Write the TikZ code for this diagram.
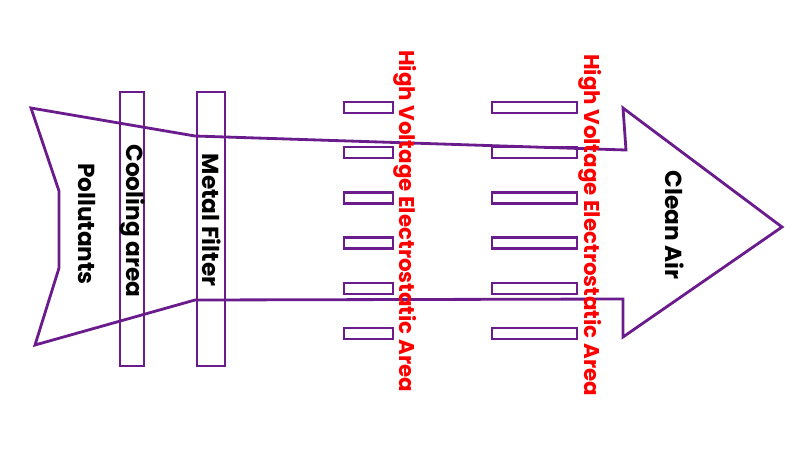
\documentclass[tikz,border=0pt]{standalone}
\usepackage{fontspec}
\setmainfont{Poppins}
\usetikzlibrary{positioning}
\definecolor{flowStroke}{RGB}{106,27,140}
\definecolor{hvRed}{RGB}{255,0,0}
\colorlet{ink}{black}
\tikzset{
  outline/.style={draw=flowStroke, line width=2pt, line join=miter},
  stagebox/.style={
    draw=flowStroke,
    line width=2pt,
    minimum height=6.85cm,
    inner sep=0pt
  },
  plate/.style={
    draw=flowStroke,
    line width=1.8pt,
    minimum height=0.275cm,
    inner sep=0pt
  },
  tag/.style={font=\bfseries\fontsize{16.5}{18}\selectfont, text=ink, rotate=-90, inner sep=0pt},
  hvtag/.style={tag, font=\bfseries\fontsize{15.2}{17}\selectfont, text=hvRed}
}

\begin{document}
\begin{tikzpicture}[x=0.025cm,y=-0.025cm]
  \useasboundingbox (0,0) rectangle (800,450);

  % flow arrow
  \draw[outline] (31,108) -- (59,191) -- (59,268) -- (35,345) -- (195,300)
    -- (623,299) -- (623,337) -- (782,227) -- (623,108) -- (626,150)
    -- (195,136) -- cycle;

  % stages
  \node[stagebox, minimum width=0.6cm] (cooling) at (132,229) {};
  \node[stagebox, minimum width=0.7cm] (filter) at (211,229) {};

  % electrostatic plates
  \foreach \i in {0,...,5} {
    \node[plate, minimum width=1.225cm] (plateA\i) at (368.5,107.5+45.2*\i) {};
    \node[plate, minimum width=2.125cm] (plateB\i) at (534.5,107.5+45.2*\i) {};
  }

  % labels
  \node[tag] (pollutants) at (87,224) {Pollutants};
  \node[tag] (coolingLabel) at (133,221) {Cooling area};
  \node[tag] (filterLabel) at (212,220) {Metal Filter};
  \node[hvtag] (hvA) at (405,221) {High Voltage Electrostatic Area};
  \node[hvtag] (hvB) at (590,225) {High Voltage Electrostatic Area};
  \node[tag] (clean) at (675,225) {Clean Air};
\end{tikzpicture}
\end{document}
